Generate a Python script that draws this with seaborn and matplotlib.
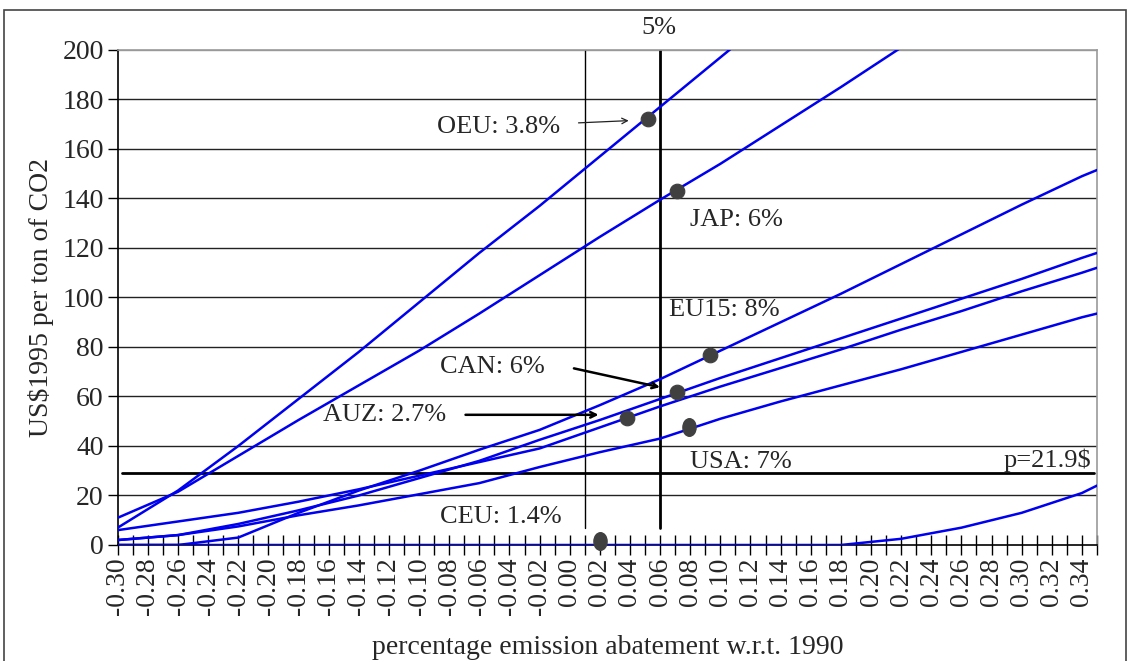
import numpy as np
import pandas as pd
import matplotlib
matplotlib.use("Agg")
import matplotlib.pyplot as plt
import seaborn as sns
from matplotlib.path import Path
from matplotlib.patches import Rectangle

# abatement grid (share of 1990 emissions)
abatement = [-0.30, -0.26, -0.22, -0.18, -0.14, -0.10, -0.06, -0.02, 0.02,
             0.06, 0.10, 0.14, 0.18, 0.22, 0.26, 0.30, 0.34, 0.35]

# marginal cost, US$1995 per ton of CO2
oeu = [7, 22, 40, 59, 78, 98, 118, 137, 157, 177, 197, 217,
       None, None, None, None, None, None]
jap = [11, 21.5, 36, 50.5, 64.5, 78.5, 93.5, 109, 124.5, 139.5, 154, 169.5,
       185, 201, 216, None, None, None]
eu15 = [0, 0, 3, 13, 22, 30, 38.5, 46.5, 56.5, 67, 78.5, 90,
        101.5, 113.5, 125.5, 137.5, 149, 151.5]
can = [2, 4, 8.5, 14, 20, 27, 34, 42.5, 50.5, 59, 67.5, 75.5,
       83.5, 91.5, 99.5, 107.5, 116, 118]
auz = [6, 9.5, 13, 17.5, 22.5, 28, 33.5, 39, 47.5, 56, 64, 71.5,
       79, 87, 94.5, 102.5, 110, 112]
usa = [2, 4, 7.5, 12, 16, 20.5, 25, 31.5, 37.5, 43, 51, 58,
       64.5, 71, 78, 85, 92, 93.5]
ceu = [0, 0, 0, 0, 0, 0, 0, 0, 0, 0, 0, 0,
       0, 2.5, 7, 13, 21, 24]

# market points on each curve
dot_x = [0.052, 0.071, 0.093, 0.071, 0.038, 0.079, 0.020]
dot_y = [172, 143, 76.8, 62, 51.4, 47.7, 1.5]

price_line = 29
left_marker = 0.01
right_marker = 0.06

series = {"OEU": oeu, "JAP": jap, "EU15": eu15, "CAN": can,
          "AUZ": auz, "USA": usa, "CEU": ceu}
frames = []
for name, vals in series.items():
    frames.append(pd.DataFrame({"x": abatement, "y": vals, "region": name}))
df = pd.concat(frames, ignore_index=True).dropna()

sns.set_style("white")
plt.rcParams["font.family"] = ["Liberation Serif", "DejaVu Serif"]

fig = plt.figure(figsize=(11.3, 6.61), dpi=100)
ax = fig.add_axes([0.1042, 0.1755, 0.8666, 0.7489])

# chart frame (bottom edge lies below the picture)
fig.patches.append(Rectangle((4 / 1130, -0.02), 1122 / 1130, 1.02 - 10 / 661,
                             transform=fig.transFigure, fill=False,
                             edgecolor="#444444", lw=1.2))

for v in range(20, 201, 20):
    ax.axhline(v, color="#222222" if v < 200 else "#999999", lw=1, zorder=1)

sns.lineplot(data=df, x="x", y="y", hue="region", estimator=None,
             palette=["#0000f0"] * len(series), lw=1.8, legend=False,
             ax=ax, zorder=3)

ax.plot([left_marker, left_marker], [7, 200], color="black", lw=1, zorder=2)
ax.plot([right_marker, right_marker], [7, 200], color="black", lw=2, zorder=2)
ax.plot([-0.297, 0.348], [price_line, price_line], color="black", lw=2, zorder=2)

ellipse = Path.unit_circle()
ellipse = Path(ellipse.vertices * np.array([0.75, 1.0]), ellipse.codes)
sns.scatterplot(x=dot_x[:5], y=dot_y[:5], s=110, color="#404040",
                edgecolor="#404040", ax=ax, zorder=5, clip_on=False)
sns.scatterplot(x=dot_x[5:], y=dot_y[5:], s=160, color="#404040",
                edgecolor="#404040", marker=ellipse, ax=ax, zorder=5,
                clip_on=False)

fs = 19
ax.text(-0.088, 169, "OEU: 3.8%", fontsize=fs, va="center")
ax.annotate("", xy=(0.041, 171.5), xytext=(0.004, 170.5),
            arrowprops=dict(arrowstyle="->", lw=0.9, color="#222222"))
ax.text(0.080, 131.5, "JAP: 6%", fontsize=fs, va="center")
ax.text(0.066, 95, "EU15: 8%", fontsize=fs, va="center")
ax.text(-0.086, 72, "CAN: 6%", fontsize=fs, va="center")
ax.annotate("", xy=(0.0617, 63.5), xytext=(0.001, 71.6),
            arrowprops=dict(arrowstyle="->", lw=1.8, color="black"))
ax.text(-0.1635, 52.6, "AUZ: 2.7%", fontsize=fs, va="center")
ax.annotate("", xy=(0.021, 52.6), xytext=(-0.071, 52.6),
            arrowprops=dict(arrowstyle="->", lw=1.8, color="black"))
ax.text(0.080, 33.6, "USA: 7%", fontsize=fs, va="center")
ax.text(0.346, 34.4, "p=21.9$", fontsize=fs, va="center", ha="right")
ax.text(-0.086, 11.3, "CEU: 1.4%", fontsize=fs, va="center")
ax.text(0.059, 209, "5%", fontsize=fs, ha="center", va="center", clip_on=False)

ax.set_xlim(-0.30, 0.35)
ax.set_ylim(0, 200)
ax.set_yticks(range(0, 201, 20))
ax.set_xticks(np.round(np.arange(-0.30, 0.351, 0.02), 2))
ax.set_xticks(np.round(np.arange(-0.30, 0.351, 0.01), 2), minor=True)
ax.set_xticklabels([f"{t:.2f}" for t in np.arange(-0.30, 0.351, 0.02)],
                   rotation=90, fontsize=20)
ax.tick_params(axis="y", labelsize=20, length=7, width=1, color="black",
               direction="out", left=True, pad=3)
ax.tick_params(axis="x", which="both", direction="inout", length=14, width=1,
               color="black", bottom=True, pad=2)
ax.tick_params(axis="x", which="major", labelsize=20)

for side in ["left", "bottom"]:
    ax.spines[side].set_color("black")
    ax.spines[side].set_linewidth(1.2)
for side in ["top", "right"]:
    ax.spines[side].set_color("#999999")
    ax.spines[side].set_linewidth(1.2)

ax.set_xlabel("percentage emission abatement w.r.t. 1990", fontsize=20, labelpad=14)
ax.set_ylabel("US$1995 per ton of CO2", fontsize=20, labelpad=6)

fig.savefig("out.png", dpi=100)
